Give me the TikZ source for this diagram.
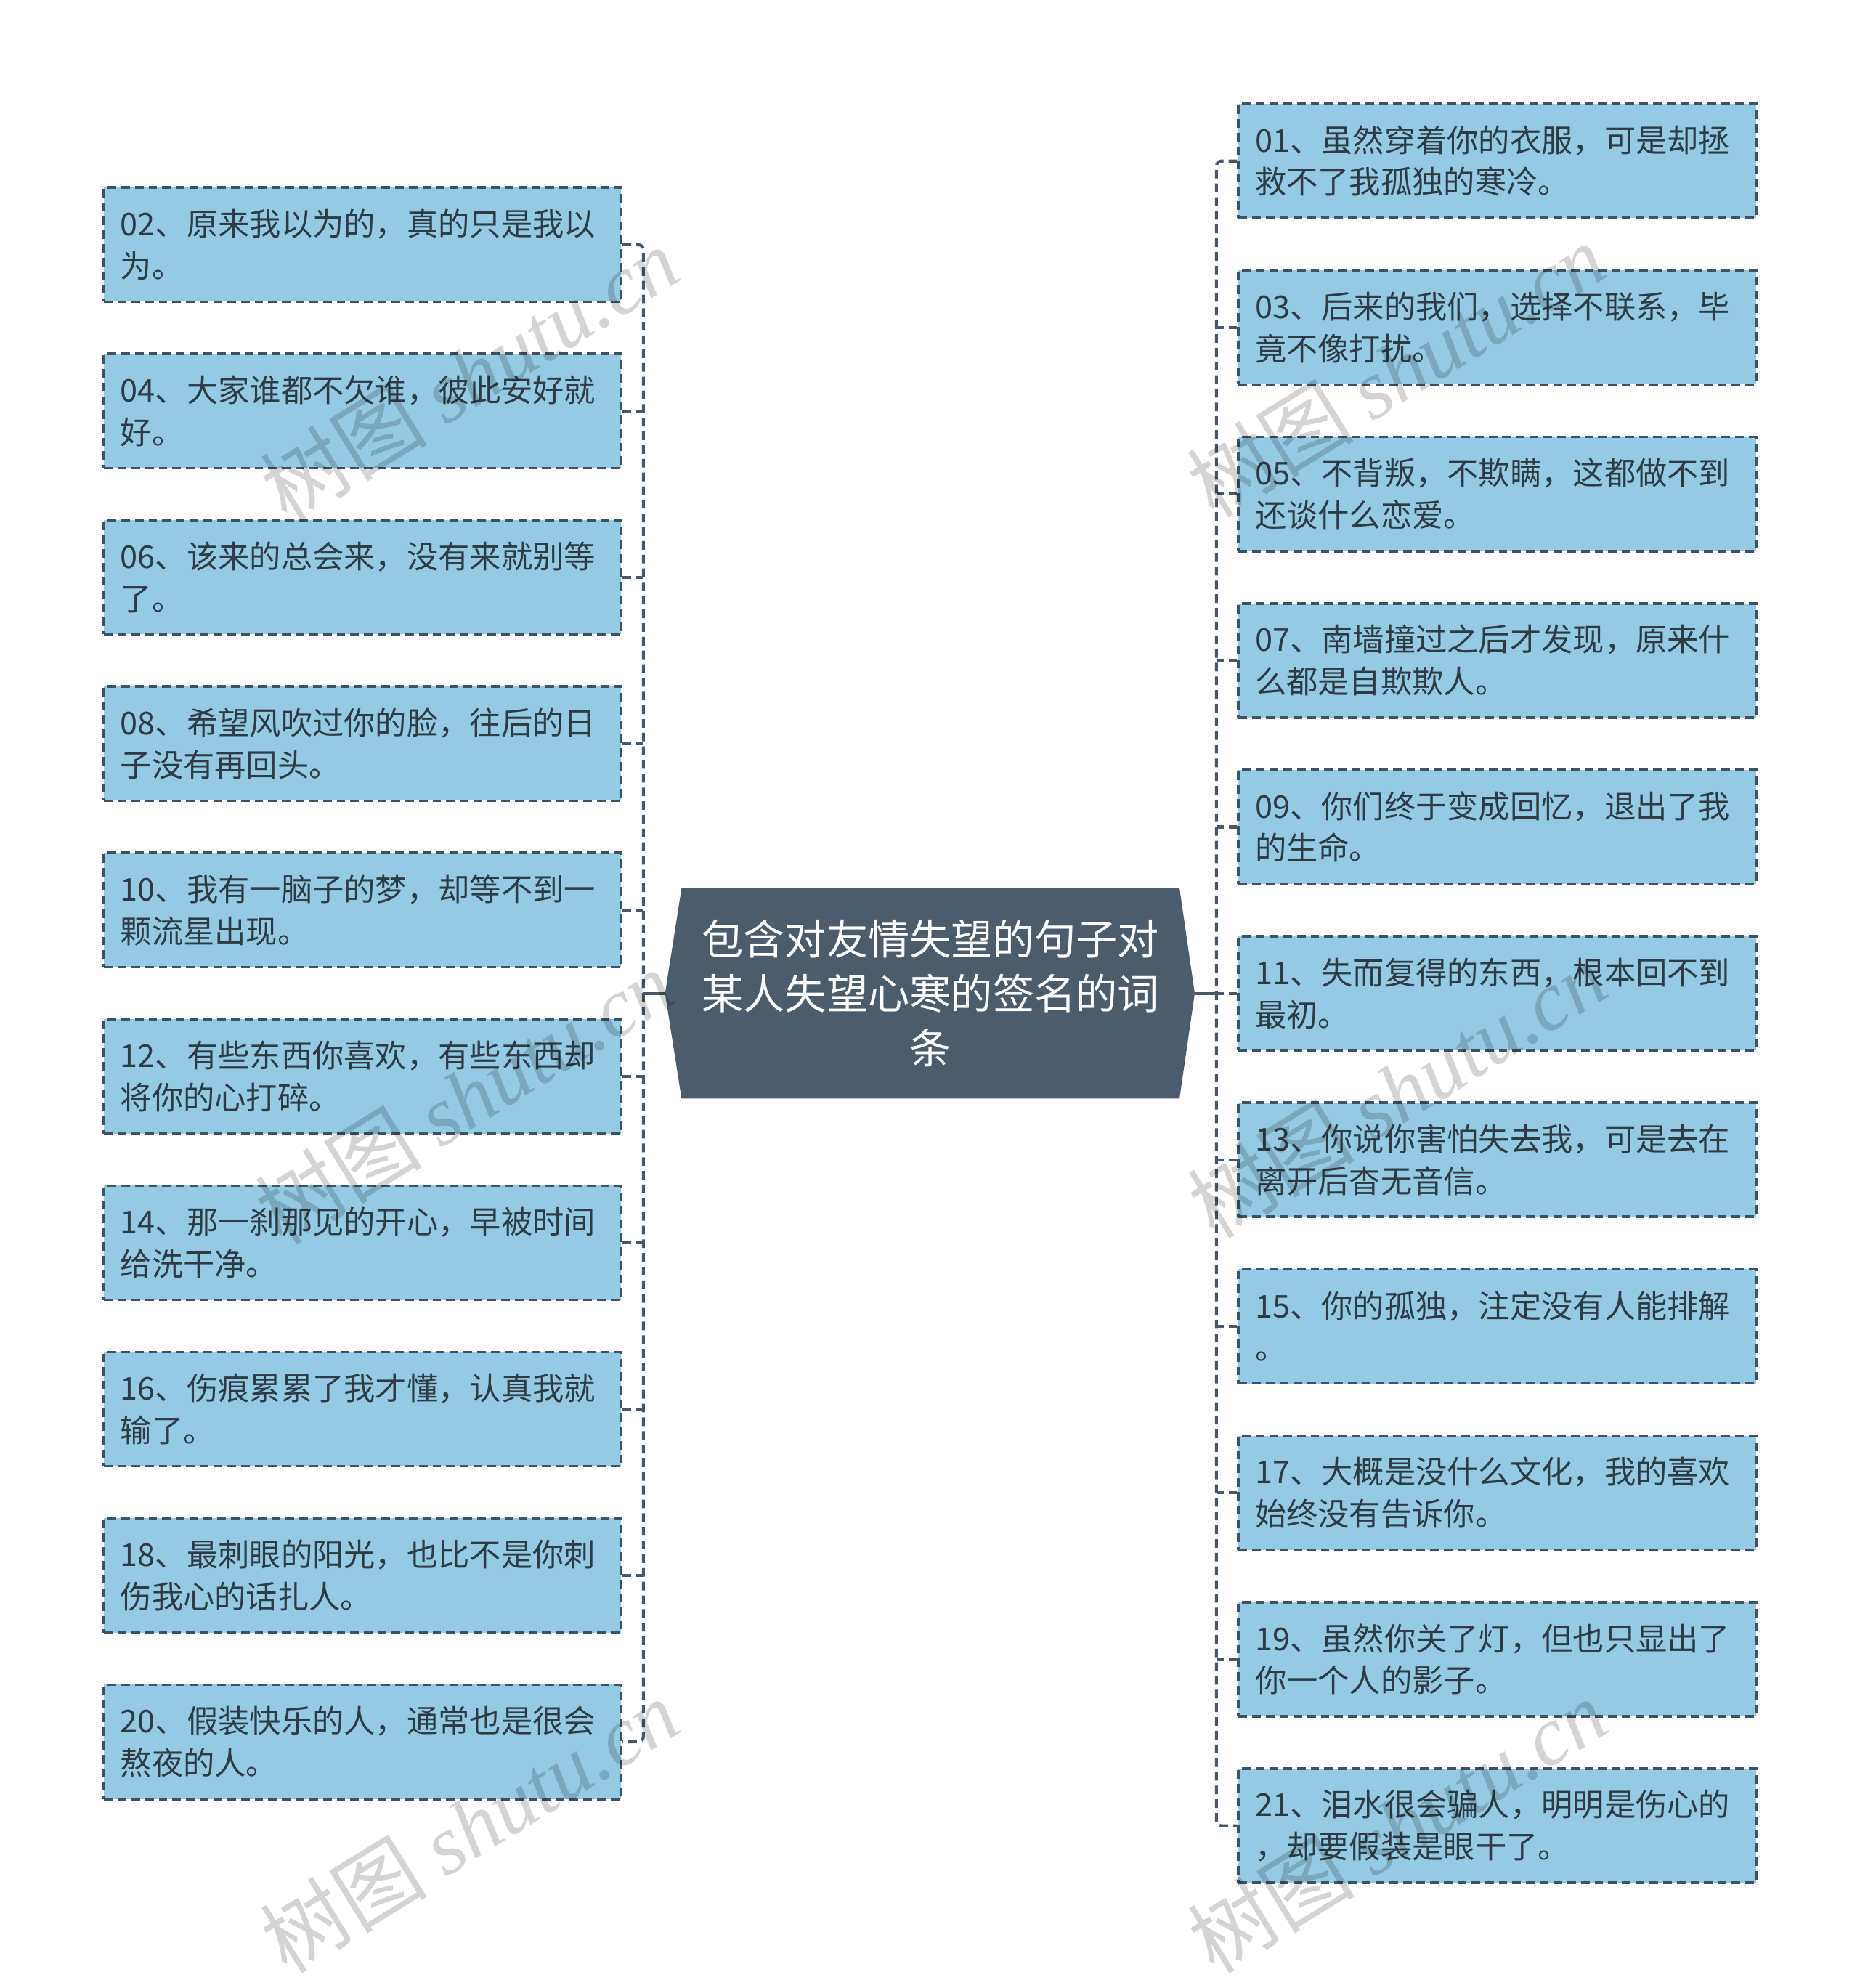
\documentclass[tikz,border=0pt]{standalone}
\usepackage{fontspec}
\setmainfont{Noto Sans CJK SC}
\newfontfamily\wmlatin{Liberation Serif}
\usetikzlibrary{backgrounds}
\definecolor{boxblue}{HTML}{95CAE4}
\definecolor{boxline}{HTML}{3F5263}
\definecolor{boxtext}{HTML}{2E3B44}
\definecolor{rootfill}{HTML}{4B5D6D}
\definecolor{connline}{HTML}{46586A}
\tikzset{
  leaf/.style={rectangle, fill=boxblue, draw=boxline, line width=1.1pt,
    dash pattern=on 3.4pt off 2pt, minimum width=204pt, minimum height=45pt,
    inner xsep=6.5pt, inner ysep=0pt, text width=191pt, align=left,
    text=boxtext, font=\fontsize{12.4}{16.5}\selectfont},
  rootnode/.style={rectangle, minimum width=196pt, minimum height=82.5pt,
    inner sep=0pt, text=white, align=center,
    font=\fontsize{16.4}{21.5}\selectfont},
  dconn/.style={draw=connline, line width=1.2pt, dash pattern=on 3.4pt off 2pt},
  sconn/.style={draw=connline, line width=1.2pt},
  wm/.style={text=black, opacity=0.17, font=\fontsize{33}{35}\selectfont, inner sep=0pt}
}
\begin{document}
\begin{tikzpicture}[x=0.5pt,y=-0.5pt]
\useasboundingbox (0,0) rectangle (1467,1568);

% root
\node[rootnode] (root) at (734,783.5) {包含对友情失望的句子对\\某人失望心寒的签名的词\\条};
\coordinate (rootL) at ([xshift=-6.5pt]root.west);
\coordinate (rootR) at ([xshift=6pt]root.east);
\begin{scope}[on background layer]
\fill[white] (0,0) rectangle (1467,1568);
\fill[rootfill] (root.north west) -- (root.north east) -- (rootR) -- (root.south east)
  -- (root.south west) -- (rootL) -- cycle;
\end{scope}

% left leaves
\node[leaf] (L02) at (286,193.0) {02、原来我以为的，真的只是我以\\为。};
\node[leaf] (L04) at (286,324.2) {04、大家谁都不欠谁，彼此安好就\\好。};
\node[leaf] (L06) at (286,455.4) {06、该来的总会来，没有来就别等\\了。};
\node[leaf] (L08) at (286,586.6) {08、希望风吹过你的脸，往后的日\\子没有再回头。};
\node[leaf] (L10) at (286,717.8) {10、我有一脑子的梦，却等不到一\\颗流星出现。};
\node[leaf] (L12) at (286,849.0) {12、有些东西你喜欢，有些东西却\\将你的心打碎。};
\node[leaf] (L14) at (286,980.2) {14、那一刹那见的开心，早被时间\\给洗干净。};
\node[leaf] (L16) at (286,1111.4) {16、伤痕累累了我才懂，认真我就\\输了。};
\node[leaf] (L18) at (286,1242.6) {18、最刺眼的阳光，也比不是你刺\\伤我心的话扎人。};
\node[leaf] (L20) at (286,1373.8) {20、假装快乐的人，通常也是很会\\熬夜的人。};

% right leaves
\node[leaf] (R01) at (1181,127.0) {01、虽然穿着你的衣服，可是却拯\\救不了我孤独的寒冷。};
\node[leaf] (R03) at (1181,258.3) {03、后来的我们，选择不联系，毕\\竟不像打扰。};
\node[leaf] (R05) at (1181,389.6) {05、不背叛，不欺瞒，这都做不到\\还谈什么恋爱。};
\node[leaf] (R07) at (1181,520.9) {07、南墙撞过之后才发现，原来什\\么都是自欺欺人。};
\node[leaf] (R09) at (1181,652.2) {09、你们终于变成回忆，退出了我\\的生命。};
\node[leaf] (R11) at (1181,783.5) {11、失而复得的东西，根本回不到\\最初。};
\node[leaf] (R13) at (1181,914.8) {13、你说你害怕失去我，可是去在\\离开后杳无音信。};
\node[leaf] (R15) at (1181,1046.1) {15、你的孤独，注定没有人能排解\\。};
\node[leaf] (R17) at (1181,1177.4) {17、大概是没什么文化，我的喜欢\\始终没有告诉你。};
\node[leaf] (R19) at (1181,1308.7) {19、虽然你关了灯，但也只显出了\\你一个人的影子。};
\node[leaf] (R21) at (1181,1440.0) {21、泪水很会骗人，明明是伤心的\\，却要假装是眼干了。};

% trunks
\coordinate (tL) at (507.5,783.5);
\coordinate (tR) at (959.5,783.5);

\draw[dconn, rounded corners=2pt] (L02.east) -| (tL) |- (L20.east);
\foreach \n in {04,06,08,10,12,14,16,18}{
  \draw[dconn] (L\n.east) -- (L\n.east -| tL);
}
\draw[dconn, rounded corners=2pt] (R01.west) -| (tR) |- (R21.west);
\foreach \n in {03,05,07,09,11,13,15,17,19}{
  \draw[dconn] (R\n.west) -- (R\n.west -| tR);
}
\draw[sconn] (rootL) -- (tL);
\draw[sconn] (rootR) -- (tR);

% watermarks
\foreach \p in {(370,295),(366,865),(370,1440),(1101,292),(1102,860),(1102,1440)}{
  \node[wm, rotate=31.7] at \p {树图 {\wmlatin\itshape shutu.cn}};
}
\end{tikzpicture}
\end{document}
